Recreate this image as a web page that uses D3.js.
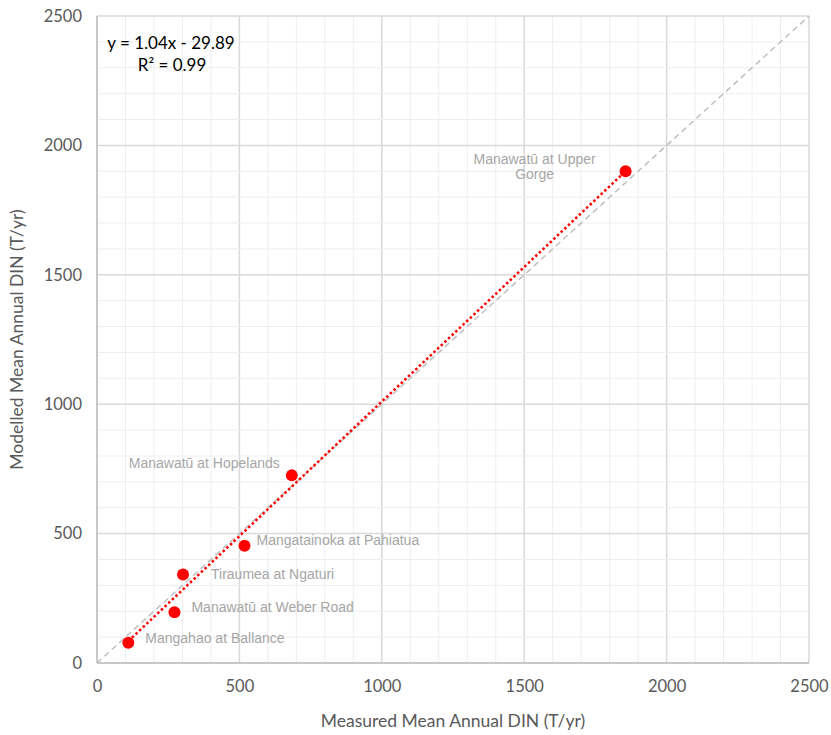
<!DOCTYPE html>
<html><head><meta charset="utf-8">
<script src="https://cdn.jsdelivr.net/npm/d3@7"></script>
<style>body{margin:0;background:#fff;} svg{display:block;}</style>
</head><body>
<script>
const sites = ["Mangahao at Ballance","Manawatū at Weber Road","Tiraumea at Ngaturi","Mangatainoka  at Pahiatua","Manawatū at Hopelands","Manawatū at Upper Gorge"];
const measured = [110, 272, 302, 518, 684, 1856];
const modelled = [78, 196, 342, 453, 725, 1900];
const xTicks = [0, 500, 1000, 1500, 2000, 2500];
const yTicks = [0, 500, 1000, 1500, 2000, 2500];
const slope = 1.04, intercept = -29.89;
const eqText = "y = 1.04x - 29.89";
const r2Text = "R² = 0.99";
const xTitle = "Measured Mean Annual DIN (T/yr)";
const yTitle = "Modelled Mean Annual DIN (T/yr)";
const labelPos = [
  {dx: 17, dy: -4, anchor: "start"},
  {dx: 17, dy: -4, anchor: "start"},
  {dx: 28, dy: 1, anchor: "start"},
  {dx: 12, dy: -4, anchor: "start"},
  {dx: -12, dy: -11, anchor: "end"},
  {dx: -91, dy: -7, anchor: "middle"}
];

const W = 831, H = 735;
const m = {left: 97, right: 22, top: 16, bottom: 72};
const svg = d3.select("body").append("svg").attr("width", W).attr("height", H);
const x = d3.scaleLinear().domain([0, 2500]).range([m.left, W - m.right]);
const y = d3.scaleLinear().domain([0, 2500]).range([H - m.bottom, m.top]);

const g = svg.append("g");
const minor = d3.range(0, 2501, 100);
g.selectAll(".vmin").data(minor).enter().append("line")
  .attr("x1", d => x(d)).attr("x2", d => x(d)).attr("y1", y(0)).attr("y2", y(2500))
  .attr("stroke", d => d % 500 === 0 ? "#d9d9d9" : "#eeeeee").attr("stroke-width", d => d % 500 === 0 ? 1.5 : 1);
g.selectAll(".hmin").data(minor).enter().append("line")
  .attr("y1", d => y(d)).attr("y2", d => y(d)).attr("x1", x(0)).attr("x2", x(2500))
  .attr("stroke", d => d % 500 === 0 ? "#d9d9d9" : "#eeeeee").attr("stroke-width", d => d % 500 === 0 ? 1.5 : 1);
g.append("line").attr("x1", x(0)).attr("x2", x(2500)).attr("y1", y(0)).attr("y2", y(0)).attr("stroke", "#bfbfbf").attr("stroke-width", 1.5);
g.append("line").attr("x1", x(0)).attr("x2", x(0)).attr("y1", y(0)).attr("y2", y(2500)).attr("stroke", "#bfbfbf").attr("stroke-width", 1.5);

const fontAxis = "Lato, 'Open Sans', sans-serif";
const xAxis = d3.axisBottom(x).tickValues(xTicks).tickSize(0).tickPadding(17).tickFormat(d3.format("d"));
const xa = svg.append("g").attr("transform", `translate(0,${y(0)})`).call(xAxis);
const yAxis = d3.axisLeft(y).tickValues(yTicks).tickSize(0).tickPadding(15).tickFormat(d3.format("d"));
const ya = svg.append("g").attr("transform", `translate(${x(0)},0)`).call(yAxis);
[xa, ya].forEach(a => {
  a.select(".domain").remove();
  a.selectAll("text").attr("fill", "#595959").attr("font-size", 16.5).attr("font-family", fontAxis);
});

svg.append("line").attr("x1", x(0)).attr("y1", y(0)).attr("x2", x(2500)).attr("y2", y(2500))
  .attr("stroke", "#bfbfbf").attr("stroke-width", 1.5).attr("stroke-dasharray", "6,4");

const xmin = d3.min(measured), xmax = d3.max(measured);
svg.append("line").attr("x1", x(xmin)).attr("y1", y(slope * xmin + intercept))
  .attr("x2", x(xmax)).attr("y2", y(slope * xmax + intercept))
  .attr("stroke", "#ff0000").attr("stroke-width", 2.5).attr("stroke-dasharray", "2.5,2.5");

const data = sites.map((s, i) => ({s, mx: measured[i], my: modelled[i], p: labelPos[i]}));
svg.selectAll("circle").data(data).enter().append("circle")
  .attr("cx", d => x(d.mx)).attr("cy", d => y(d.my)).attr("r", 6).attr("fill", "#ff0000");

const lab = svg.selectAll(".lab").data(data).enter().append("text")
  .attr("font-family", "'Liberation Sans', Arial, sans-serif").attr("font-size", 14).attr("fill", "#a6a6a6")
  .attr("text-anchor", d => d.p.anchor)
  .attr("x", d => x(d.mx) + d.p.dx).attr("y", d => y(d.my) + d.p.dy);
lab.each(function(d) {
  const t = d3.select(this);
  if (d.s === "Manawatū at Upper Gorge") {
    t.append("tspan").attr("x", x(d.mx) + d.p.dx).attr("dy", 0).text("Manawatū at Upper");
    t.append("tspan").attr("x", x(d.mx) + d.p.dx).attr("dy", 15).text("Gorge");
  } else {
    t.text(d.s).attr("dominant-baseline", "middle");
  }
});

svg.append("text").attr("x", 171).attr("y", 49).attr("text-anchor", "middle")
  .attr("font-family", fontAxis).attr("font-size", 17).attr("fill", "#000").text(eqText);
svg.append("text").attr("x", 172).attr("y", 71).attr("text-anchor", "middle")
  .attr("font-family", fontAxis).attr("font-size", 17).attr("fill", "#000").text(r2Text);

svg.append("text").attr("x", (x(0) + x(2500)) / 2).attr("y", 727).attr("text-anchor", "middle")
  .attr("font-family", fontAxis).attr("font-size", 17.5).attr("fill", "#595959").text(xTitle);
svg.append("text").attr("transform", `translate(23,${(y(0) + y(2500)) / 2}) rotate(-90)`).attr("text-anchor", "middle")
  .attr("font-family", fontAxis).attr("font-size", 17.5).attr("fill", "#595959").text(yTitle);
</script>
</body></html>
